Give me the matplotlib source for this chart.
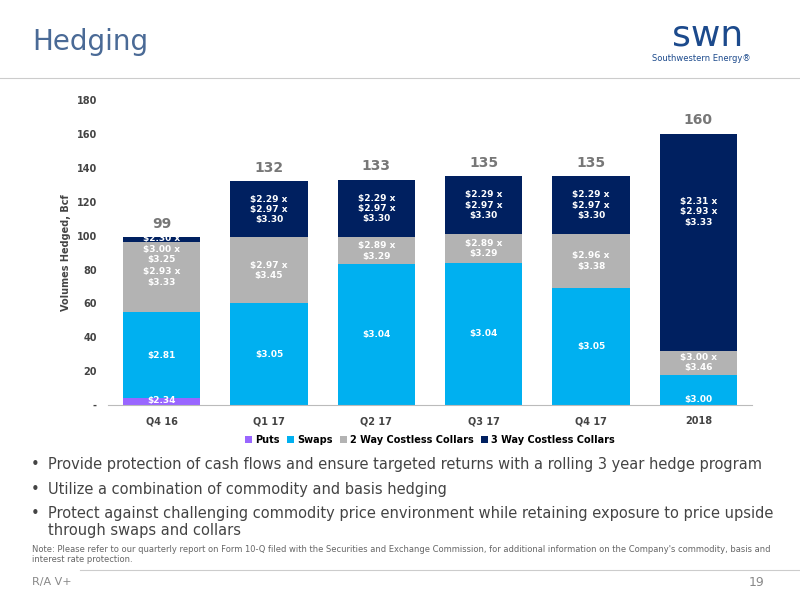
import matplotlib
matplotlib.use("Agg")
import matplotlib.pyplot as plt

cats = ["Q4 16", "Q1 17", "Q2 17", "Q3 17", "Q4 17", "2018"]
puts = [4, 0, 0, 0, 0, 0]
swaps = [51, 60, 83, 84, 69, 18]
two_way = [41, 39, 16, 17, 32, 14]
three_way = [3, 33, 34, 34, 34, 128]
totals = [99, 132, 133, 135, 135, 160]
put_lbl = ["$2.34", "", "", "", "", ""]
swap_lbl = ["$2.81", "$3.05", "$3.04", "$3.04", "$3.05", "$3.00"]
two_lbl = ["$2.93 x\n$3.33", "$2.97 x\n$3.45", "$2.89 x\n$3.29", "$2.89 x\n$3.29", "$2.96 x\n$3.38", "$3.00 x\n$3.46"]
three_lbl = ["$2.30 x\n$3.00 x\n$3.25", "$2.29 x\n$2.97 x\n$3.30", "$2.29 x\n$2.97 x\n$3.30", "$2.29 x\n$2.97 x\n$3.30", "$2.29 x\n$2.97 x\n$3.30", "$2.31 x\n$2.93 x\n$3.33"]

fig = plt.figure(figsize=(8, 6), dpi=100)
fig.text(0.04, 0.93, "Hedging", fontsize=20, color="#4a6a96", va="center")
fig.add_artist(plt.Line2D([0, 1], [0.87, 0.87], color="#cccccc", lw=0.8))
fig.text(0.84, 0.94, "swn", fontsize=26, color="#1c4a8c", va="center")
fig.text(0.815, 0.903, "Southwestern Energy\u00ae", fontsize=6, color="#1c4a8c", va="center")

ax = fig.add_axes([0.135, 0.325, 0.805, 0.508])
x = range(len(cats))
w = 0.72
c_put, c_sw, c_two, c_three = "#9966ff", "#00b0f0", "#b3b3b3", "#002060"
ax.bar(x, puts, w, color=c_put, label="Puts")
b1 = [p for p in puts]
ax.bar(x, swaps, w, bottom=b1, color=c_sw, label="Swaps")
b2 = [p + s for p, s in zip(puts, swaps)]
ax.bar(x, two_way, w, bottom=b2, color=c_two, label="2 Way Costless Collars")
b3 = [a + t for a, t in zip(b2, two_way)]
ax.bar(x, three_way, w, bottom=b3, color=c_three, label="3 Way Costless Collars")

kw = dict(ha="center", color="white", fontsize=6.5, fontweight="bold")
for i in x:
    if put_lbl[i]:
        ax.text(i, 2.5, put_lbl[i], va="center", **kw)
    if swaps[i] > 20:
        ax.text(i, b1[i] + swaps[i] / 2, swap_lbl[i], va="center", **kw)
    else:
        ax.text(i, 0.5, swap_lbl[i], va="bottom", **kw)
    if three_way[i] > 10:
        ax.text(i, b2[i] + two_way[i] / 2, two_lbl[i], va="center", **kw)
        ax.text(i, (b3[i] + three_way[i] / 2) if three_way[i] < 60 else 114, three_lbl[i], va="center", **kw)
    else:
        ax.text(i, b2[i] + two_way[i] * 0.5, two_lbl[i], va="center", **kw)
        ax.text(i, b3[i] - 4, three_lbl[i], va="center", **kw)
    ax.text(i, totals[i] + 4, str(totals[i]), va="bottom", ha="center", color="#777777", fontsize=10, fontweight="bold")

ax.set_ylim(0, 180)
ax.set_yticks(range(0, 181, 20))
ax.set_yticklabels(["-"] + [str(v) for v in range(20, 181, 20)], fontsize=7, fontweight="bold", color="#444444")
ax.set_xticks(list(x))
ax.set_xticklabels(cats, fontsize=7, fontweight="bold", color="#444444")
ax.set_xlim(-0.5, 5.5)
for s in ["top", "right", "left"]:
    ax.spines[s].set_visible(False)
ax.spines["bottom"].set_color("#bbbbbb")
ax.tick_params(length=0, pad=8)
ax.set_ylabel("Volumes Hedged, Bcf", fontsize=7, fontweight="bold", color="#444444")
ax.legend(loc="upper center", bbox_to_anchor=(0.5, -0.07), ncol=4, frameon=False,
          handlelength=0.7, handleheight=0.7, columnspacing=0.8, handletextpad=0.3, prop={"weight": "bold", "size": 7})

bul = ["Provide protection of cash flows and ensure targeted returns with a rolling 3 year hedge program",
       "Utilize a combination of commodity and basis hedging",
       "Protect against challenging commodity price environment while retaining exposure to price upside\nthrough swaps and collars"]
ys = [0.238, 0.197, 0.156]
for y, b in zip(ys, bul):
    fig.text(0.038, y, "\u2022", fontsize=10.5, color="#444444", va="top")
    fig.text(0.06, y, b, fontsize=10.5, color="#444444", va="top", linespacing=1.1)
fig.text(0.04, 0.092, "Note: Please refer to our quarterly report on Form 10-Q filed with the Securities and Exchange Commission, for additional information on the Company's commodity, basis and\ninterest rate protection.",
         fontsize=6, color="#666666", va="top")
fig.add_artist(plt.Line2D([0.1, 1], [0.05, 0.05], color="#cccccc", lw=0.8))
fig.text(0.04, 0.03, "R/A V+", fontsize=8, color="#888888", va="center")
fig.text(0.955, 0.03, "19", fontsize=9, color="#888888", va="center", ha="right")
fig.savefig("out.png", dpi=100)
